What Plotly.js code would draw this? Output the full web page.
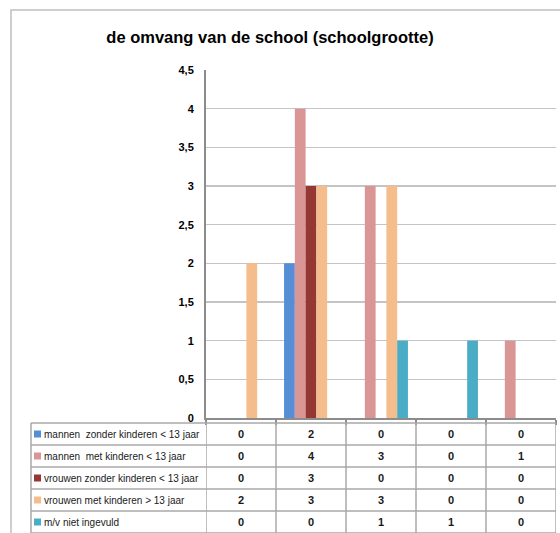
<!DOCTYPE html>
<html><head><meta charset="utf-8">
<script src="https://cdn.plot.ly/plotly-3.0.1.min.js"></script>
<style>html,body{margin:0;padding:0;background:#fff}#c{width:560px;height:533px}</style>
</head><body><div id="c"></div>
<script>
const categories = ['1','2','3','4','5'];
const seriesNames = [
  'mannen  zonder kinderen < 13 jaar',
  'mannen  met kinderen < 13 jaar',
  'vrouwen zonder kinderen < 13 jaar',
  'vrouwen met kinderen > 13 jaar',
  'm/v niet ingevuld'
];
const mannenZonder = [0, 2, 0, 0, 0];
const mannenMet    = [0, 4, 3, 0, 1];
const vrouwenZonder= [0, 3, 0, 0, 0];
const vrouwenMet   = [2, 3, 3, 0, 0];
const nietIngevuld = [0, 0, 1, 1, 0];
const seriesValues = [mannenZonder, mannenMet, vrouwenZonder, vrouwenMet, nietIngevuld];
const colors = ['#558ED5', '#D99694', '#953735', '#F5BC8C', '#4BACC6'];

const W = 560, H = 533;
const mL = 31, mR = 4, mT = 70, mB = 0;
const pw = W - mL - mR, ph = H - mT - mB;
const px = v => (v - mL) / pw;
const py = v => (H - mB - v) / ph;

const traces = seriesValues.map((vals, i) => ({
  type: 'bar', x: categories, y: vals, name: seriesNames[i],
  marker: {color: colors[i]}, showlegend: false, hoverinfo: 'skip'
}));

// data table below the chart (drawn with shapes + annotations)
const tableTop = 423, rowH = 22;
const lineCol = '#a8a8a8';
const tFont = {family: 'Liberation Sans, Arial, sans-serif', size: 10, color: '#1a1a1a'};
const nFont = {family: 'Liberation Sans, Arial, sans-serif', size: 11, color: '#1a1a1a', weight: 'bold'};
const shapes = [];
const annotations = [];
for (let r = 0; r <= seriesNames.length; r++) {
  const y = tableTop + r * rowH;
  shapes.push({type: 'line', xref: 'paper', yref: 'paper', x0: 0, x1: 1,
    y0: py(y), y1: py(y), line: {color: lineCol, width: 1.5}});
}
const tableBottom = py(tableTop + seriesNames.length * rowH);
shapes.push({type: 'line', xref: 'paper', yref: 'paper', x0: 0, x1: 0,
  y0: tableBottom, y1: py(tableTop), line: {color: lineCol, width: 1.5}});
for (let j = 0; j <= categories.length; j++) {
  shapes.push({type: 'line', xref: 'x', yref: 'paper', x0: j - 0.5, x1: j - 0.5,
    y0: tableBottom, y1: py(tableTop), line: {color: lineCol, width: 1.5}});
}
seriesNames.forEach((n, i) => {
  const yc = tableTop + i * rowH + rowH / 2;
  shapes.push({type: 'rect', xref: 'paper', yref: 'paper',
    x0: px(34), x1: px(41), y0: py(yc + 3.5), y1: py(yc - 3.5),
    fillcolor: colors[i], line: {width: 0}});
  annotations.push({xref: 'paper', yref: 'paper', x: px(42), y: py(yc),
    xanchor: 'left', yanchor: 'middle', showarrow: false, text: n, font: tFont});
  categories.forEach((c, j) => {
    annotations.push({xref: 'x', yref: 'paper', x: j, y: py(yc),
      xanchor: 'center', yanchor: 'middle', showarrow: false,
      text: String(seriesValues[i][j]), font: nFont});
  });
});
// outer chart border
shapes.push({type: 'rect', xref: 'paper', yref: 'paper',
  x0: px(11), x1: px(575), y0: py(545), y1: py(10),
  line: {color: '#bfbfbf', width: 1.5}, fillcolor: 'rgba(0,0,0,0)', layer: 'below'});

const layout = {
  width: W, height: H,
  margin: {l: mL, r: mR, t: mT, b: mB, pad: 0},
  paper_bgcolor: '#ffffff', plot_bgcolor: '#ffffff',
  separators: ',.',
  title: {text: 'de omvang van de school (schoolgrootte)',
    font: {family: 'Liberation Sans, Arial, sans-serif', size: 16.5, weight: 'bold', color: '#000'},
    x: 270 / W, xref: 'container', xanchor: 'center',
    y: 1 - 37 / H, yref: 'container', yanchor: 'middle'},
  barmode: 'group', bargap: 0.23, bargroupgap: 0,
  xaxis: {domain: [px(206), 1], type: 'category', range: [-0.5, categories.length - 0.5],
    autorange: false, showticklabels: false,
    showline: true, linecolor: '#8c8c8c', linewidth: 2,
    ticks: 'outside', tickson: 'boundaries', ticklen: 5, tickcolor: '#8c8c8c', tickwidth: 1.5,
    showgrid: false, zeroline: false, fixedrange: true},
  yaxis: {domain: [py(418), 1], range: [0, 4.5], autorange: false, dtick: 0.5, tick0: 0,
    showline: true, linecolor: '#8c8c8c', linewidth: 2,
    gridcolor: '#c4c4c4', gridwidth: 1.5, zeroline: false, ticks: '',
    ticklabelstandoff: 8,
    tickfont: {family: 'Liberation Sans, Arial, sans-serif', size: 11, weight: 'bold', color: '#000'},
    fixedrange: true},
  shapes: shapes,
  annotations: annotations
};

Plotly.newPlot('c', traces, layout, {displayModeBar: false, staticPlot: true});
</script>
</body></html>
